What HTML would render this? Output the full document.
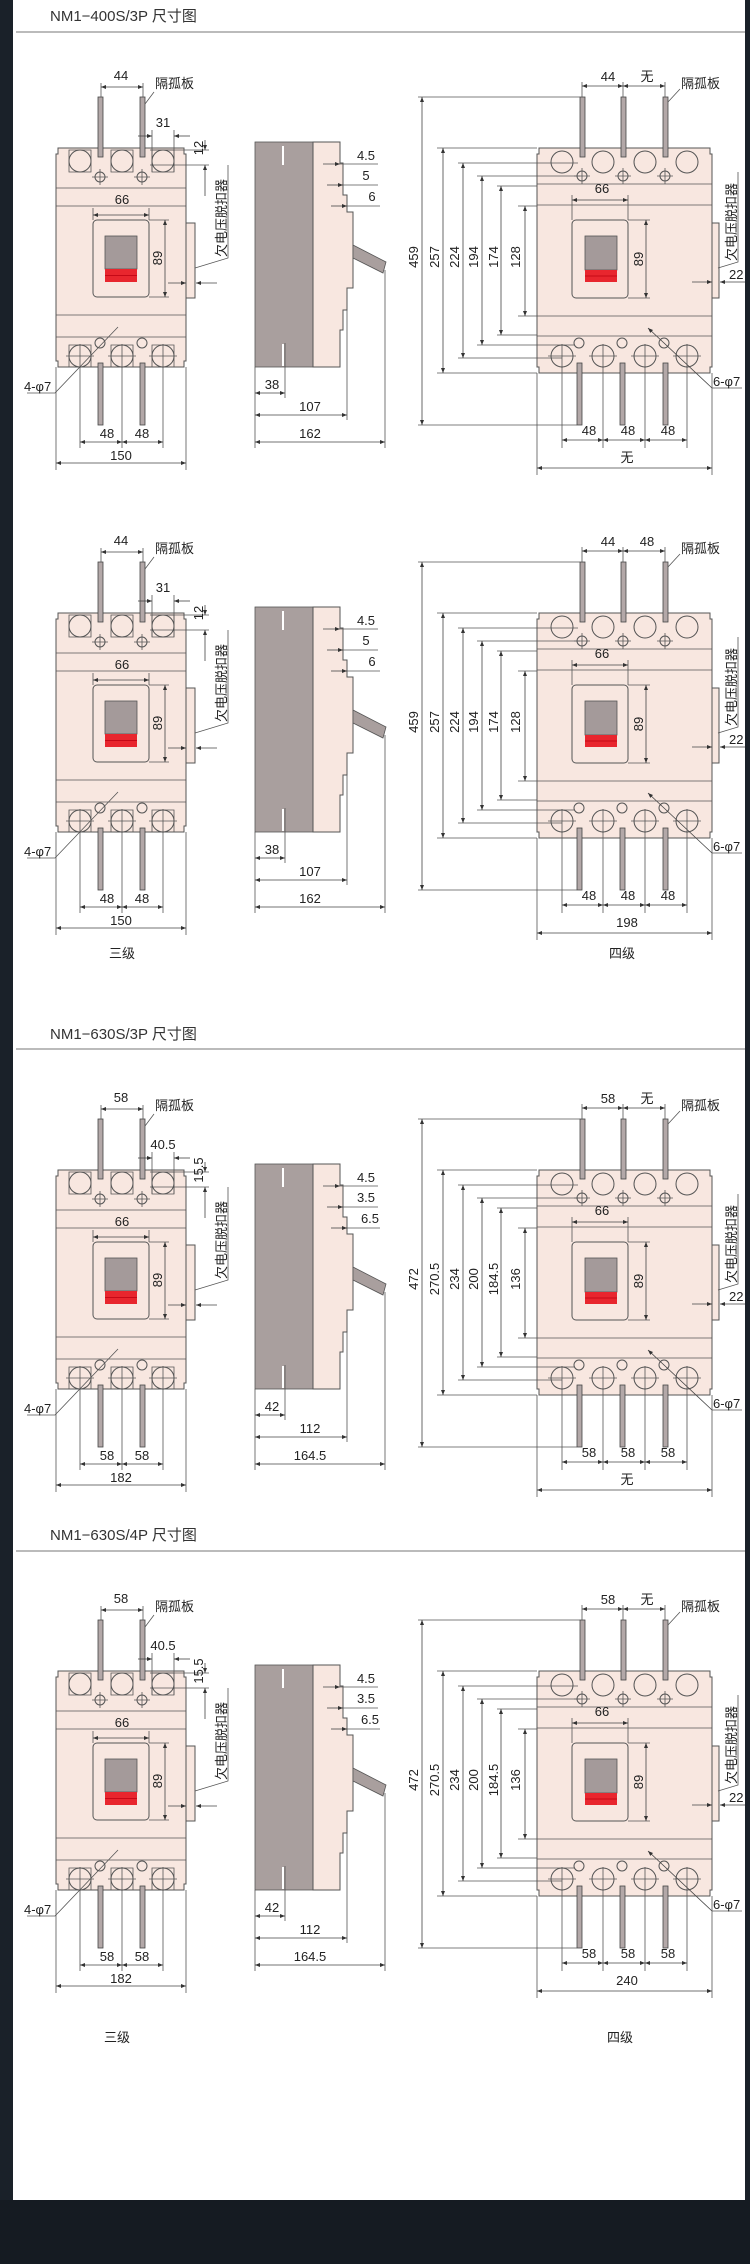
<!DOCTYPE html>
<html><head><meta charset="utf-8"><style>
html,body{margin:0;padding:0;background:#fff}
body{width:750px;height:2264px;overflow:hidden;position:relative}
svg{position:absolute;left:0;top:0}
text{font-family:"Liberation Sans","Noto Sans CJK SC",sans-serif;fill:#222;font-size:13px}
.t{font-size:15px;fill:#333}
.m{text-anchor:middle}
.b{fill:#f8e7e0;stroke:#555;stroke-width:1}
.l{stroke:#555;stroke-width:0.8;fill:none}
.d{stroke:#444;stroke-width:0.8;fill:none;marker-start:url(#a);marker-end:url(#a)}
.e{stroke:#444;stroke-width:0.8;fill:none;marker-end:url(#a)}
.g{fill:#a99f9e;stroke:#555;stroke-width:0.8}
.bus{fill:#b3a8a8;stroke:#444;stroke-width:0.8}
</style></head><body>
<svg width="750" height="2264" viewBox="0 0 750 2264" xmlns="http://www.w3.org/2000/svg">
<defs>
<marker id="a" viewBox="0 0 10 10" refX="10" refY="5" markerWidth="7" markerHeight="5" orient="auto-start-reverse" markerUnits="userSpaceOnUse"><path d="M0,1 L10,5 L0,9Z" fill="#333"/></marker>
<g id="f3">
<path class="b" d="M56,154 H58 V148 H184 V154 H186 V361 H184 V367 H58 V361 H56Z"/>
<path class="l" d="M56,188H186M56,206H186M56,315H186M56,337H186"/>
<path class="l" d="M69,150h22v22h-22zM111,150h22v22h-22zM152,150h22v22h-22zM69,345h22v22h-22zM111,345h22v22h-22zM152,345h22v22h-22z" stroke="#a99"/>
<g class="b"><circle cx="80" cy="161" r="11"/><circle cx="122" cy="161" r="11"/><circle cx="163" cy="161" r="11"/><circle cx="100" cy="177" r="5"/><circle cx="142" cy="177" r="5"/><circle cx="80" cy="356" r="11"/><circle cx="122" cy="356" r="11"/><circle cx="163" cy="356" r="11"/><circle cx="100" cy="343" r="5"/><circle cx="142" cy="343" r="5"/></g>
<path class="l" d="M92,177h16M100,169v16M134,177h16M142,169v16M66,356h28M80,344v24M108,356h28M122,344v24M149,356h28M163,344v24"/>
<rect class="bus" x="98" y="97" width="5" height="60"/><rect class="bus" x="140" y="97" width="5" height="60"/>
<rect class="bus" x="98" y="363" width="5" height="62"/><rect class="bus" x="140" y="363" width="5" height="62"/>
<rect class="b" x="93" y="220" width="56" height="77" rx="4"/>
<rect x="105" y="236" width="32" height="33" fill="#a49a9a" stroke="#555" stroke-width="0.8"/>
<rect x="105" y="269" width="32" height="13" fill="#e8262e"/><path d="M105,275.5h32" stroke="#b01" stroke-width="0.8"/>
<rect class="b" x="186" y="223" width="9" height="75"/>
<path class="l" d="M101,83V97M143,83V97M152,130V172M174,130V172M150,150H209M150,165H209M93,208V220M149,208V220M149,220H169M149,297H169M195,268L228,258V165M80,367V448M122,367V448M163,367V448M56,367V470M186,367V470"/>
<path class="d" d="M101,87H143"/>
<path class="e" d="M138,136H152"/><path class="e" d="M190,136H174"/>
<path class="e" d="M205,140V150"/><path class="e" d="M205,196V165"/>
<path class="d" d="M93,215H149"/><path class="d" d="M165,220V297"/>
<path class="e" d="M168,283H186"/><path class="e" d="M217,283H196"/>
<path class="l" d="M145,104L154,92"/>
<path class="l" d="M27,393H55L118,327"/>
<path class="d" d="M80,442H122"/><path class="d" d="M122,442H163"/><path class="d" d="M56,463H186"/>
</g>
<g id="sd">
<rect class="g" x="255" y="142" width="58" height="225"/>
<path class="b" d="M313,142H340V163H343V195H347V212H353V288H347V310H343V330H340V367H313Z"/>
<path d="M283,146V165M283,344V366" stroke="#fff" stroke-width="2"/>
<path class="g" d="M353,245L386,262L383,273L353,258Z"/>
<path class="e" d="M323,164H340"/><path class="l" d="M340,164H378"/>
<path class="e" d="M327,185H343"/><path class="l" d="M343,185H378"/>
<path class="e" d="M331,206H347"/><path class="l" d="M347,206H380"/>
<path class="l" d="M285,343V398M255,367V448M347,290V420M385,270V448"/>
<path class="d" d="M255,393H285"/><path class="d" d="M255,415H347"/><path class="d" d="M255,442H385"/>
</g>
<g id="f4">
<path class="b" d="M537,154H539V148H710V154H712V367H710V373H539V367H537Z"/>
<path class="l" d="M537,184H712M537,205H712M537,316H712M537,336H712"/>
<g class="b"><circle cx="562" cy="162" r="11"/><circle cx="603" cy="162" r="11"/><circle cx="645" cy="162" r="11"/><circle cx="687" cy="162" r="11"/><circle cx="582" cy="176" r="5"/><circle cx="623" cy="176" r="5"/><circle cx="665" cy="176" r="5"/>
<circle cx="562" cy="356" r="11"/><circle cx="603" cy="356" r="11"/><circle cx="645" cy="356" r="11"/><circle cx="687" cy="356" r="11"/><circle cx="579" cy="343" r="5"/><circle cx="622" cy="343" r="5"/><circle cx="664" cy="343" r="5"/></g>
<path class="l" d="M574,176h16M582,168v16M615,176h16M623,168v16M657,176h16M665,168v16M548,356h28M562,344v24M589,356h28M603,344v24M631,356h28M645,344v24M673,356h28M687,344v24"/>
<rect class="bus" x="580" y="97" width="5" height="60"/><rect class="bus" x="621" y="97" width="5" height="60"/><rect class="bus" x="663" y="97" width="5" height="60"/>
<rect class="bus" x="577" y="363" width="5" height="62"/><rect class="bus" x="620" y="363" width="5" height="62"/><rect class="bus" x="663" y="363" width="5" height="62"/>
<rect class="b" x="572" y="220" width="56" height="78" rx="4"/>
<rect x="585" y="236" width="32" height="34" fill="#a49a9a" stroke="#555" stroke-width="0.8"/>
<rect x="585" y="270" width="32" height="12" fill="#e8262e"/><path d="M585,276h32" stroke="#b01" stroke-width="0.8"/>
<rect class="b" x="712" y="223" width="7" height="75"/>
<path class="l" d="M418,97H580M418,425H577M437,148H537M437,373H537M458,163H578M458,358H562M477,176H580M477,345H575M497,186H537M497,335H537M518,206H537M518,316H537"/>
<path class="d" d="M422,97V425"/><path class="d" d="M443,148V373"/><path class="d" d="M463,163V358"/><path class="d" d="M482,176V345"/><path class="d" d="M501,186V335"/><path class="d" d="M525,206V316"/>
<path class="l" d="M582,82V97M623,82V97M665,82V97M572,195V220M628,195V220M628,220H650M628,298H650M718,268L738,262V172M719,275V292M562,367V448M603,367V448M645,367V448M687,367V448M537,373V475M712,373V475"/>
<path class="d" d="M582,86H623"/><path class="d" d="M623,86H665"/>
<path class="l" d="M668,102L680,89"/>
<path class="d" d="M572,200H628"/><path class="d" d="M646,220V298"/>
<path class="e" d="M692,282H712"/><path class="e" d="M745,282H720"/>
<path class="l" d="M712,388H742"/><path class="e" d="M712,388L648,328"/>
<path class="d" d="M562,440H603"/><path class="d" d="M603,440H645"/><path class="d" d="M645,440H687"/><path class="d" d="M537,468H712"/>
</g>
</defs>

<!-- frame -->
<rect x="0" y="0" width="13" height="2264" fill="#1a2129"/>
<rect x="745" y="0" width="5" height="2264" fill="#1a2129"/>
<rect x="0" y="2200" width="750" height="64" fill="#151b22"/>

<!-- Section 1 -->
<text class="t" x="50" y="21">NM1−400S/3P 尺寸图</text>
<path d="M16,32H745" stroke="#777" stroke-width="1"/>
<use href="#f3"/><use href="#sd"/><use href="#f4"/>
<g>
<text class="m" x="121" y="80">44</text><text x="155" y="88">隔孤板</text><text class="m" x="163" y="127">31</text>
<text class="m" transform="translate(203,148) rotate(-90)">12</text>
<text class="m" x="122" y="204">66</text><text class="m" transform="translate(162,258) rotate(-90)">89</text>
<text class="m" transform="translate(226,218) rotate(-90)">欠电压脱扣器</text>
<text x="24" y="391">4-φ7</text><text class="m" x="107" y="438">48</text><text class="m" x="142" y="438">48</text><text class="m" x="121" y="460">150</text>
<text class="m" x="366" y="160">4.5</text><text class="m" x="366" y="180">5</text><text class="m" x="372" y="201">6</text>
<text class="m" x="272" y="389">38</text><text class="m" x="310" y="411">107</text><text class="m" x="310" y="438">162</text>
<text class="m" x="608" y="81">44</text><text class="m" x="647" y="81">无</text><text x="681" y="88">隔孤板</text>
<text class="m" transform="translate(418,257) rotate(-90)">459</text><text class="m" transform="translate(439,257) rotate(-90)">257</text><text class="m" transform="translate(459,257) rotate(-90)">224</text><text class="m" transform="translate(478,257) rotate(-90)">194</text><text class="m" transform="translate(498,257) rotate(-90)">174</text><text class="m" transform="translate(520,257) rotate(-90)">128</text>
<text class="m" x="602" y="193">66</text><text class="m" transform="translate(643,259) rotate(-90)">89</text>
<text class="m" transform="translate(736,222) rotate(-90)">欠电压脱扣器</text>
<text x="729" y="279">22</text><text x="713" y="386">6-φ7</text>
<text class="m" x="589" y="435">48</text><text class="m" x="628" y="435">48</text><text class="m" x="668" y="435">48</text><text class="m" x="627" y="462">无</text>
</g>

<!-- Section 2 -->
<g transform="translate(0,465)">
<use href="#f3"/><use href="#sd"/><use href="#f4"/>
<text class="m" x="121" y="80">44</text><text x="155" y="88">隔孤板</text><text class="m" x="163" y="127">31</text>
<text class="m" transform="translate(203,148) rotate(-90)">12</text>
<text class="m" x="122" y="204">66</text><text class="m" transform="translate(162,258) rotate(-90)">89</text>
<text class="m" transform="translate(226,218) rotate(-90)">欠电压脱扣器</text>
<text x="24" y="391">4-φ7</text><text class="m" x="107" y="438">48</text><text class="m" x="142" y="438">48</text><text class="m" x="121" y="460">150</text>
<text class="m" x="366" y="160">4.5</text><text class="m" x="366" y="180">5</text><text class="m" x="372" y="201">6</text>
<text class="m" x="272" y="389">38</text><text class="m" x="310" y="411">107</text><text class="m" x="310" y="438">162</text>
<text class="m" x="608" y="81">44</text><text class="m" x="647" y="81">48</text><text x="681" y="88">隔孤板</text>
<text class="m" transform="translate(418,257) rotate(-90)">459</text><text class="m" transform="translate(439,257) rotate(-90)">257</text><text class="m" transform="translate(459,257) rotate(-90)">224</text><text class="m" transform="translate(478,257) rotate(-90)">194</text><text class="m" transform="translate(498,257) rotate(-90)">174</text><text class="m" transform="translate(520,257) rotate(-90)">128</text>
<text class="m" x="602" y="193">66</text><text class="m" transform="translate(643,259) rotate(-90)">89</text>
<text class="m" transform="translate(736,222) rotate(-90)">欠电压脱扣器</text>
<text x="729" y="279">22</text><text x="713" y="386">6-φ7</text>
<text class="m" x="589" y="435">48</text><text class="m" x="628" y="435">48</text><text class="m" x="668" y="435">48</text><text class="m" x="627" y="462">198</text>
</g>
<text class="m" x="122" y="958">三级</text><text class="m" x="622" y="958">四级</text>

<!-- Section 3 -->
<text class="t" x="50" y="1039">NM1−630S/3P 尺寸图</text>
<path d="M16,1049H745" stroke="#777" stroke-width="1"/>
<g transform="translate(0,1022)">
<use href="#f3"/><use href="#sd"/><use href="#f4"/>
<text class="m" x="121" y="80">58</text><text x="155" y="88">隔孤板</text><text class="m" x="163" y="127">40.5</text>
<text class="m" transform="translate(203,148) rotate(-90)">15.5</text>
<text class="m" x="122" y="204">66</text><text class="m" transform="translate(162,258) rotate(-90)">89</text>
<text class="m" transform="translate(226,218) rotate(-90)">欠电压脱扣器</text>
<text x="24" y="391">4-φ7</text><text class="m" x="107" y="438">58</text><text class="m" x="142" y="438">58</text><text class="m" x="121" y="460">182</text>
<text class="m" x="366" y="160">4.5</text><text class="m" x="366" y="180">3.5</text><text class="m" x="370" y="201">6.5</text>
<text class="m" x="272" y="389">42</text><text class="m" x="310" y="411">112</text><text class="m" x="310" y="438">164.5</text>
<text class="m" x="608" y="81">58</text><text class="m" x="647" y="81">无</text><text x="681" y="88">隔孤板</text>
<text class="m" transform="translate(418,257) rotate(-90)">472</text><text class="m" transform="translate(439,257) rotate(-90)">270.5</text><text class="m" transform="translate(459,257) rotate(-90)">234</text><text class="m" transform="translate(478,257) rotate(-90)">200</text><text class="m" transform="translate(498,257) rotate(-90)">184.5</text><text class="m" transform="translate(520,257) rotate(-90)">136</text>
<text class="m" x="602" y="193">66</text><text class="m" transform="translate(643,259) rotate(-90)">89</text>
<text class="m" transform="translate(736,222) rotate(-90)">欠电压脱扣器</text>
<text x="729" y="279">22</text><text x="713" y="386">6-φ7</text>
<text class="m" x="589" y="435">58</text><text class="m" x="628" y="435">58</text><text class="m" x="668" y="435">58</text><text class="m" x="627" y="462">无</text>
</g>

<!-- Section 4 -->
<text class="t" x="50" y="1540">NM1−630S/4P 尺寸图</text>
<path d="M16,1551H745" stroke="#777" stroke-width="1"/>
<g transform="translate(0,1523)">
<use href="#f3"/><use href="#sd"/><use href="#f4"/>
<text class="m" x="121" y="80">58</text><text x="155" y="88">隔孤板</text><text class="m" x="163" y="127">40.5</text>
<text class="m" transform="translate(203,148) rotate(-90)">15.5</text>
<text class="m" x="122" y="204">66</text><text class="m" transform="translate(162,258) rotate(-90)">89</text>
<text class="m" transform="translate(226,218) rotate(-90)">欠电压脱扣器</text>
<text x="24" y="391">4-φ7</text><text class="m" x="107" y="438">58</text><text class="m" x="142" y="438">58</text><text class="m" x="121" y="460">182</text>
<text class="m" x="366" y="160">4.5</text><text class="m" x="366" y="180">3.5</text><text class="m" x="370" y="201">6.5</text>
<text class="m" x="272" y="389">42</text><text class="m" x="310" y="411">112</text><text class="m" x="310" y="438">164.5</text>
<text class="m" x="608" y="81">58</text><text class="m" x="647" y="81">无</text><text x="681" y="88">隔孤板</text>
<text class="m" transform="translate(418,257) rotate(-90)">472</text><text class="m" transform="translate(439,257) rotate(-90)">270.5</text><text class="m" transform="translate(459,257) rotate(-90)">234</text><text class="m" transform="translate(478,257) rotate(-90)">200</text><text class="m" transform="translate(498,257) rotate(-90)">184.5</text><text class="m" transform="translate(520,257) rotate(-90)">136</text>
<text class="m" x="602" y="193">66</text><text class="m" transform="translate(643,259) rotate(-90)">89</text>
<text class="m" transform="translate(736,222) rotate(-90)">欠电压脱扣器</text>
<text x="729" y="279">22</text><text x="713" y="386">6-φ7</text>
<text class="m" x="589" y="435">58</text><text class="m" x="628" y="435">58</text><text class="m" x="668" y="435">58</text><text class="m" x="627" y="462">240</text>
</g>
<text class="m" x="117" y="2042">三级</text><text class="m" x="620" y="2042">四级</text>
</svg>
</body></html>
